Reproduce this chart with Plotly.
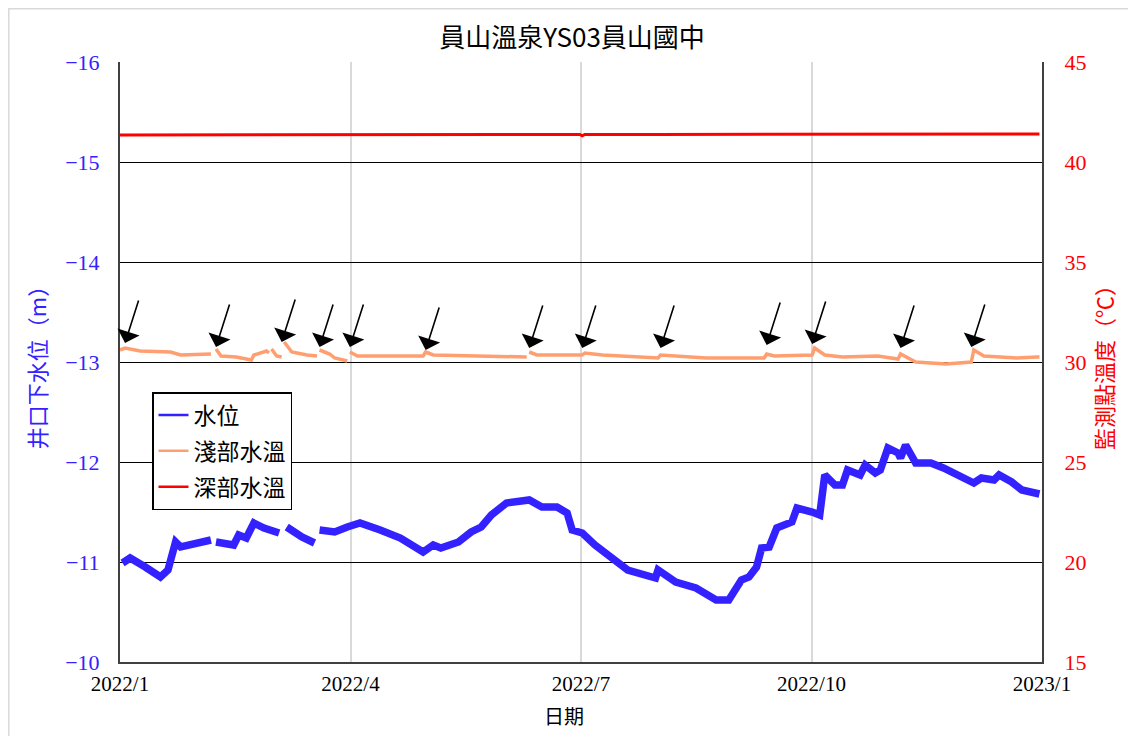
import plotly.graph_objects as go

# ---------------- data ----------------
level_dates = ["2022-01-02","2022-01-05","2022-01-11","2022-01-17","2022-01-20","2022-01-23","2022-01-25",
               "2022-02-01","2022-02-06","2022-02-07","2022-02-08","2022-02-15","2022-02-17","2022-02-20",
               "2022-02-23","2022-02-27","2022-03-05","2022-03-06","2022-03-08","2022-03-14","2022-03-19",
               "2022-03-20","2022-03-21","2022-03-27","2022-04-01","2022-04-06","2022-04-14","2022-04-22",
               "2022-05-01","2022-05-05","2022-05-08","2022-05-15","2022-05-20","2022-05-24","2022-05-28",
               "2022-06-03","2022-06-12","2022-06-17","2022-06-23","2022-06-27","2022-06-29","2022-07-03",
               "2022-07-08","2022-07-14","2022-07-21","2022-08-01","2022-08-02","2022-08-09","2022-08-17",
               "2022-08-25","2022-08-30","2022-09-04","2022-09-07","2022-09-10","2022-09-12","2022-09-15",
               "2022-09-18","2022-09-24","2022-09-26","2022-10-02","2022-10-05","2022-10-07","2022-10-11",
               "2022-10-14","2022-10-16","2022-10-21","2022-10-23","2022-10-27","2022-10-29","2022-11-01",
               "2022-11-05","2022-11-06","2022-11-08","2022-11-12","2022-11-18","2022-11-23","2022-11-30",
               "2022-12-05","2022-12-08","2022-12-13","2022-12-15","2022-12-20","2022-12-24","2022-12-30",
               "2022-12-31"]
level_values = [-10.99,-11.04,-10.95,-10.85,-10.92,-11.20,-11.15,
                -11.19,-11.22,None,-11.20,-11.17,-11.27,-11.24,
                -11.39,-11.34,-11.29,None,-11.35,-11.25,-11.19,
                None,-11.32,-11.30,-11.35,-11.39,-11.32,-11.24,
                -11.10,-11.17,-11.14,-11.20,-11.30,-11.35,-11.47,
                -11.59,-11.62,-11.55,-11.55,-11.49,-11.32,-11.29,
                -11.17,-11.05,-10.92,-10.84,-10.92,-10.80,-10.74,
                -10.62,-10.62,-10.82,-10.85,-10.95,-11.14,-11.15,
                -11.34,-11.40,-11.54,-11.50,-11.47,-11.87,-11.77,
                -11.77,-11.92,-11.87,-11.97,-11.89,-11.92,-12.14,
                -12.09,-12.04,-12.17,-11.99,-11.99,-11.94,-11.85,
                -11.79,-11.84,-11.82,-11.87,-11.80,-11.72,-11.67,
                -11.68]

shallow_dates = ["2022-01-01","2022-01-03","2022-01-09","2022-01-21","2022-01-25","2022-02-06","2022-02-07",
                 "2022-02-08","2022-02-10","2022-02-16","2022-02-22","2022-02-23","2022-02-28","2022-03-01","2022-03-01 12:00",
                 "2022-03-02","2022-03-04","2022-03-06","2022-03-06 12:00",
                 "2022-03-07","2022-03-10","2022-03-16","2022-03-20","2022-03-20 12:00",
                 "2022-03-21","2022-03-25","2022-03-27","2022-04-01","2022-04-01 12:00",
                 "2022-04-02","2022-04-05","2022-05-01","2022-05-02","2022-05-05","2022-05-31","2022-06-11","2022-06-11 12:00",
                 "2022-06-12","2022-06-15","2022-07-03","2022-07-04","2022-07-11","2022-08-02",
                 "2022-08-03","2022-08-21","2022-09-13","2022-09-14","2022-09-17","2022-10-02",
                 "2022-10-03","2022-10-07","2022-10-14","2022-10-28","2022-11-05",
                 "2022-11-06","2022-11-12","2022-11-24","2022-12-04",
                 "2022-12-05","2022-12-09","2022-12-22","2022-12-30","2022-12-31"]
shallow_values = [30.60,30.70,30.55,30.50,30.35,30.40,None,
                  30.65,30.30,30.25,30.10,30.35,30.55,30.45,None,
                  30.65,30.30,30.25,None,
                  31.00,30.50,30.35,30.30,None,
                  30.60,30.40,30.20,30.05,None,
                  30.50,30.30,30.30,30.50,30.35,30.30,30.25,None,
                  30.50,30.35,30.35,30.45,30.35,30.20,
                  30.35,30.20,30.20,30.40,30.30,30.35,
                  30.70,30.35,30.25,30.30,30.15,
                  30.40,30.00,29.90,30.00,
                  30.60,30.30,30.20,30.25,30.25]

deep_dates = ["2022-01-01","2022-02-01","2022-03-01","2022-04-01","2022-05-01","2022-06-01","2022-07-02",
              "2022-07-03","2022-07-04","2022-08-01","2022-09-01","2022-10-01","2022-11-01","2022-12-01","2022-12-31"]
deep_values = [41.35,41.35,41.36,41.37,41.37,41.38,41.38,41.31,41.38,41.38,41.39,41.39,41.40,41.40,41.40]

arrow_dates = ["2022-01-03","2022-02-08","2022-03-06","2022-03-21","2022-04-02","2022-05-02","2022-06-12",
               "2022-07-03","2022-08-03","2022-09-14","2022-10-02","2022-11-06","2022-12-04"]
arrow_temps = [30.95,30.75,31.00,30.75,30.75,30.60,30.70,30.70,30.70,30.85,30.90,30.70,30.75]

x_tick_vals = ["2022-01-01","2022-04-02 06:00","2022-07-02 12:00","2022-10-01 18:00","2023-01-01"]
x_tick_text = ["2022/1","2022/4","2022/7","2022/10","2023/1"]

title_text = "員山溫泉YS03員山國中"
x_title = "日期"
names = ["水位","淺部水溫","深部水溫"]

# ---------------- styles ----------------
BLUE = "#3322ff"
ORANGE = "#ff9f70"
RED = "#ff0000"
SERIF = "Liberation Serif, Times New Roman, Noto Sans CJK TC, serif"
CJK = "Noto Sans CJK TC, Liberation Serif, serif"

# page has an 8 px body margin; plot area targeted at screen x 120..1042, y 62..662
OFF = 8
W, H = 1120, 728
ML, MT = 120 - OFF, 62 - OFF
PW, PH = 922, 600

fig = go.Figure()

fig.add_trace(go.Scatter(x=deep_dates, y=deep_values, yaxis="y2", mode="lines",
                         line=dict(color=RED, width=3), showlegend=False, connectgaps=False))
fig.add_trace(go.Scatter(x=shallow_dates, y=shallow_values, yaxis="y2", mode="lines",
                         line=dict(color=ORANGE, width=3.5), showlegend=False, connectgaps=False))
fig.add_trace(go.Scatter(x=level_dates, y=level_values, yaxis="y", mode="lines",
                         line=dict(color=BLUE, width=7.5), showlegend=False, connectgaps=False))

# legend entries
for nm, col, grp in zip(names, [BLUE, ORANGE, RED], ["a", "b", "c"]):
    fig.add_trace(go.Scatter(x=[None], y=[None], mode="lines", name=nm,
                             line=dict(color=col, width=2.5), legendgroup=grp, showlegend=True))

for d, t in zip(arrow_dates, arrow_temps):
    fig.add_annotation(x=d, y=t, xref="x", yref="y2", ax=14, ay=-44, text="",
                       showarrow=True, arrowhead=1, arrowsize=2.4, arrowwidth=1.6,
                       arrowcolor="black", standoff=0)

# x-axis title as annotation (centred like the reference)
fig.add_annotation(x=(564 - 120) / PW, y=-(715 - 662) / PH, xref="paper", yref="paper",
                   text=x_title, showarrow=False, xanchor="center", yanchor="middle",
                   font=dict(family=CJK, size=20, color="black"))

fig.update_layout(
    width=W, height=H,
    margin=dict(l=ML, r=W - ML - PW, t=MT, b=H - MT - PH),
    paper_bgcolor="white", plot_bgcolor="white",
    title=dict(text=title_text, x=(572 - 120) / PW, xref="paper", xanchor="center",
               y=1 - (38 - OFF) / H, yanchor="middle",
               font=dict(family=CJK, size=26, color="black")),
    showlegend=True,
    legend=dict(x=(152 - 120) / PW, y=1 - (392 - 62) / PH, xanchor="left", yanchor="top",
                bgcolor="white", bordercolor="black", borderwidth=1.5,
                font=dict(family=CJK, size=23, color="black"),
                traceorder="grouped", tracegroupgap=3, itemwidth=30),
    xaxis=dict(type="date", range=["2022-01-01", "2023-01-01"],
               tickvals=x_tick_vals, ticktext=x_tick_text,
               tickfont=dict(family=SERIF, size=21, color="black"),
               showgrid=True, gridcolor="#d9d9d9", gridwidth=2,
               showline=True, linecolor="#404040", linewidth=2,
               ticks="", ticklabelstandoff=2),
    yaxis=dict(range=[-10, -16], dtick=1, tick0=-16,
               tickfont=dict(family=SERIF, size=22, color=BLUE),
               showgrid=True, gridcolor="black", gridwidth=1.3,
               showline=True, linecolor="#404040", linewidth=2,
               zeroline=False, ticks="", ticklabelstandoff=14,
               title=dict(text="井口下水位（m）", font=dict(family=CJK, size=22, color=BLUE), standoff=12)),
    yaxis2=dict(range=[15, 45], dtick=5, overlaying="y", side="right",
                tickfont=dict(family=SERIF, size=22, color=RED),
                showgrid=False, showline=True, linecolor="#404040", linewidth=2,
                zeroline=False, ticks="", ticklabelstandoff=16,
                title=dict(text="監測點溫度（℃）", font=dict(family=CJK, size=22, color=RED), standoff=12)),
)

# outer chart border (light grey frame at the figure edge)
fig.add_shape(type="rect", xref="paper", yref="paper",
              x0=(OFF + 0.8 - 120) / PW, x1=(OFF + W + 20 - 120) / PW,
              y0=-(OFF + H + 20 - 662) / PH, y1=1 + (62 - OFF - 0.8) / PH,
              line=dict(color="#d9d9d9", width=1.5), layer="below")

fig.write_html("out.html")
